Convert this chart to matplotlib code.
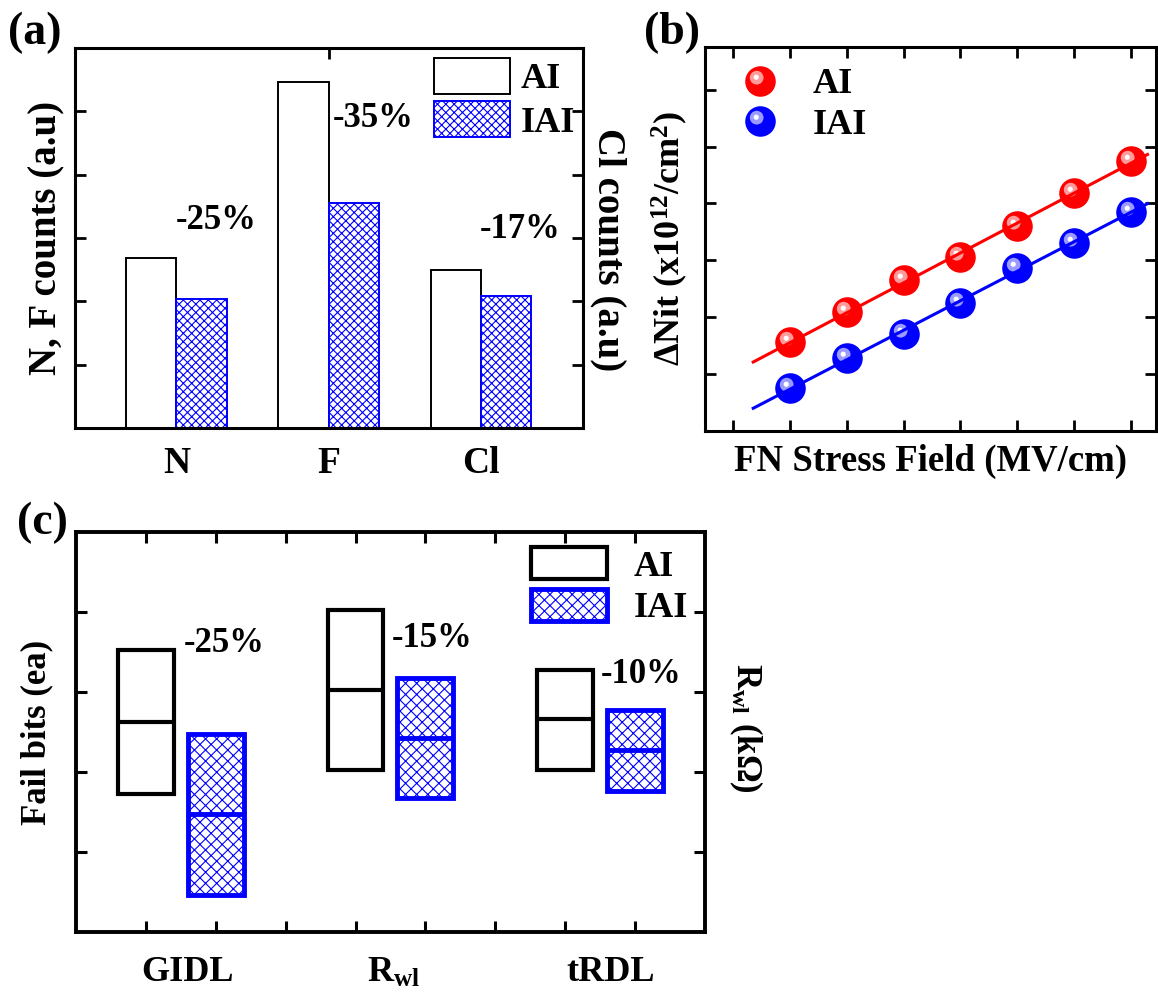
import numpy as np
import matplotlib
matplotlib.use("Agg")
import matplotlib.pyplot as plt
from matplotlib.path import Path
from matplotlib.legend_handler import HandlerTuple

# --- data -----------------------------------------------------------------------
ELEMENTS = ["N", "F", "Cl"]
COUNTS_AI = [2.69, 5.47, 2.49]
COUNTS_IAI = [2.03, 3.56, 2.09]
COUNT_DROP = ["-25%", "-35%", "-17%"]

FIELD_STEP = [1, 2, 3, 4, 5, 6, 7]
NIT_AI = [1.56, 2.10, 2.65, 3.05, 3.60, 4.19, 4.75]
NIT_IAI = [0.75, 1.29, 1.71, 2.25, 2.86, 3.31, 3.85]

METRICS = ["GIDL", r"R$_{\rm wl}$", "tRDL"]
AI_LOW = [1.72, 2.02, 2.02]
AI_MID = [2.63, 3.03, 2.66]
AI_HIGH = [3.52, 4.02, 3.28]
IAI_LOW = [0.46, 1.67, 1.76]
IAI_MID = [1.47, 2.43, 2.27]
IAI_HIGH = [2.47, 3.17, 2.78]
METRIC_DROP = ["-25%", "-15%", "-10%"]

# --- layout / style ---------------------------------------------------------------
DROP_POS_A = [(1.26, 3.28), (2.29, 4.89), (3.26, 3.13)]
DROP_POS_C = [(2.12, 3.60), (5.10, 3.67), (8.09, 3.22)]
METRIC_X = [1.6, 4.55, 7.65]

BLUE = "#0000ff"
RED = "#ff0000"
plt.rcParams.update({
    "font.family": "Liberation Serif", "font.weight": "bold", "font.size": 25,
    "axes.labelweight": "bold", "mathtext.fontset": "custom",
    "mathtext.rm": "Liberation Serif:bold", "mathtext.bf": "Liberation Serif:bold",
    "mathtext.it": "Liberation Serif:bold", "mathtext.default": "rm",
    "hatch.linewidth": 0.8,
})


def sphere_marker(cx, cy, r):
    # off-centre disc, padded to the unit box so it keeps its place inside the ball
    pad = Path([[1, 1], [-1, -1]], [Path.MOVETO, Path.MOVETO])
    return Path.make_compound_path(Path.circle((cx, cy), r), pad)


HALO = sphere_marker(-0.25, 0.25, 0.45)
SHINE = sphere_marker(-0.28, 0.28, 0.17)


def spheres(ax, x, y, base, halo, ms=22):
    a = ax.plot(x, y, ls="none", marker="o", ms=ms, mfc=base, mec=base, mew=0, zorder=3)[0]
    b = ax.plot(x, y, ls="none", marker=HALO, ms=ms, mfc=halo, mew=0, zorder=3.1)[0]
    c = ax.plot(x, y, ls="none", marker=SHINE, ms=ms, mfc="white", mew=0, zorder=3.2)[0]
    return (a, b, c)


def frame(ax, lw):
    for s in ax.spines.values():
        s.set_linewidth(lw)


fig = plt.figure(figsize=(11.58, 9.94), dpi=100)
axa = fig.add_axes([0.0648, 0.5694, 0.4387, 0.3823])
axb = fig.add_axes([0.6088, 0.5664, 0.3895, 0.3863])
axc = fig.add_axes([0.0656, 0.0624, 0.5432, 0.4024])

# ================================ (a) ================================
x = np.arange(1, len(ELEMENTS) + 1)
w = 0.33
axa.bar(x - w / 2, COUNTS_AI, w, facecolor="white", edgecolor="black", lw=1.4, label="AI")
axa.bar(x + w / 2, COUNTS_IAI, w, facecolor="white", edgecolor=BLUE, hatch="xxxx", lw=1.4,
        label="IAI")
axa.set_xlim(0.335, 3.67)
axa.set_ylim(0, 6)
axa.set_xticks(x, ELEMENTS)
axa.xaxis.remove_overlapping_locs = False
axa.set_xticks([2], minor=True)
axa.tick_params(axis="x", which="major", length=0, pad=13, labelsize=27)
axa.tick_params(axis="x", which="minor", bottom=False, top=True, direction="in", length=8, width=2)
axa.set_yticks(range(1, 6))
axa.tick_params(axis="y", direction="in", left=True, right=True, labelleft=False,
                length=8, width=2)
frame(axa, 2.2)
for (tx, ty), s in zip(DROP_POS_A, COUNT_DROP):
    axa.text(tx, ty, s, ha="center", va="center", fontsize=25)
axa.set_ylabel("N, F counts (a.u)", fontsize=28, labelpad=7)
axa.text(1.05, 0.47, "Cl counts (a.u)", transform=axa.transAxes, rotation=270,
         ha="center", va="center", fontsize=28)
axa.legend(loc="upper left", bbox_to_anchor=(0.707, 0.974), borderaxespad=0, borderpad=0,
           frameon=False, handlelength=2.1, handleheight=1.15, handletextpad=0.3,
           labelspacing=0.15, fontsize=26)

# ================================ (b) ================================
fx = np.array(FIELD_STEP, dtype=float)
xx = np.array([0.35, 7.3])
for ys, col in [(NIT_AI, RED), (NIT_IAI, BLUE)]:
    k, b0 = np.polyfit(fx, ys, 1)
    axb.plot(xx, k * xx + b0, color=col, lw=2.2, zorder=4)
h_ai = spheres(axb, fx, NIT_AI, RED, "#ff9a9a")
h_iai = spheres(axb, fx, NIT_IAI, BLUE, "#9a9aff")
axb.set_xlim(-0.5, 7.45)
axb.set_ylim(0, 6.75)
axb.set_xticks(range(0, 8))
axb.set_yticks(range(1, 7))
axb.tick_params(direction="in", top=True, right=True, labelbottom=False, labelleft=False,
                length=8, width=2)
frame(axb, 2.2)
axb.set_xlabel("FN Stress Field (MV/cm)", fontsize=26.5, labelpad=9)
axb.set_ylabel(r"ΔNit (x10$^{12}$/cm$^{2}$)", fontsize=26, labelpad=11)
axb.legend([h_ai, h_iai], ["AI", "IAI"], handler_map={tuple: HandlerTuple(ndivide=1)},
           loc="upper left", bbox_to_anchor=(0.082, 0.945), borderaxespad=0, borderpad=0,
           frameon=False, handlelength=1.0, handletextpad=0.95, labelspacing=0.2,
           fontsize=26)

# ================================ (c) ================================
pos = np.arange(len(METRICS)) * 3 + 1
bw = 0.8
lo_a, mid_a, hi_a = map(np.array, (AI_LOW, AI_MID, AI_HIGH))
lo_i, mid_i, hi_i = map(np.array, (IAI_LOW, IAI_MID, IAI_HIGH))
axc.bar(pos, hi_a - lo_a, bw, bottom=lo_a, facecolor="white", edgecolor="black", lw=3,
        label="AI")
axc.bar(pos + 1, hi_i - lo_i, bw, bottom=lo_i, facecolor="white", edgecolor=BLUE, hatch="xxx",
        lw=3.5, label="IAI")
axc.hlines(mid_a, pos - bw / 2, pos + bw / 2, colors="black", lw=3)
axc.hlines(mid_i, pos + 1 - bw / 2, pos + 1 + bw / 2, colors=BLUE, lw=3.5)
axc.set_xlim(0, 9)
axc.set_ylim(0, 5)
axc.set_xticks(range(1, 9))
axc.set_yticks(range(1, 5))
axc.tick_params(direction="in", top=True, right=True, labelbottom=False, labelleft=False,
                length=8, width=2.2)
frame(axc, 2.8)
for (tx, ty), s in zip(DROP_POS_C, METRIC_DROP):
    axc.text(tx, ty, s, ha="center", va="center", fontsize=25)
for mx, s in zip(METRIC_X, METRICS):
    axc.text(mx, -0.1025, s, transform=axc.get_xaxis_transform(), ha="center", va="center",
             fontsize=26)
axc.set_ylabel("Fail bits (ea)", fontsize=25, labelpad=16)
axc.text(1 + 41 / 629, 0.51, r"R$_{\rm wl}$ (kΩ)", transform=axc.transAxes, rotation=270,
         ha="center", va="center", fontsize=25)
axc.legend(loc="upper left", bbox_to_anchor=(0.723, 0.9625), borderaxespad=0, borderpad=0,
           frameon=False, handlelength=2.1, handleheight=1.0, handletextpad=0.75,
           labelspacing=0.15, fontsize=26)

# panel tags
for tx, ty, s in [(35, 33, "(a)"), (672, 33, "(b)"), (42, 523, "(c)")]:
    fig.text(tx / 1158, 1 - ty / 994, s, ha="center", va="center", fontsize=33)

fig.savefig("out.png", dpi=100)
